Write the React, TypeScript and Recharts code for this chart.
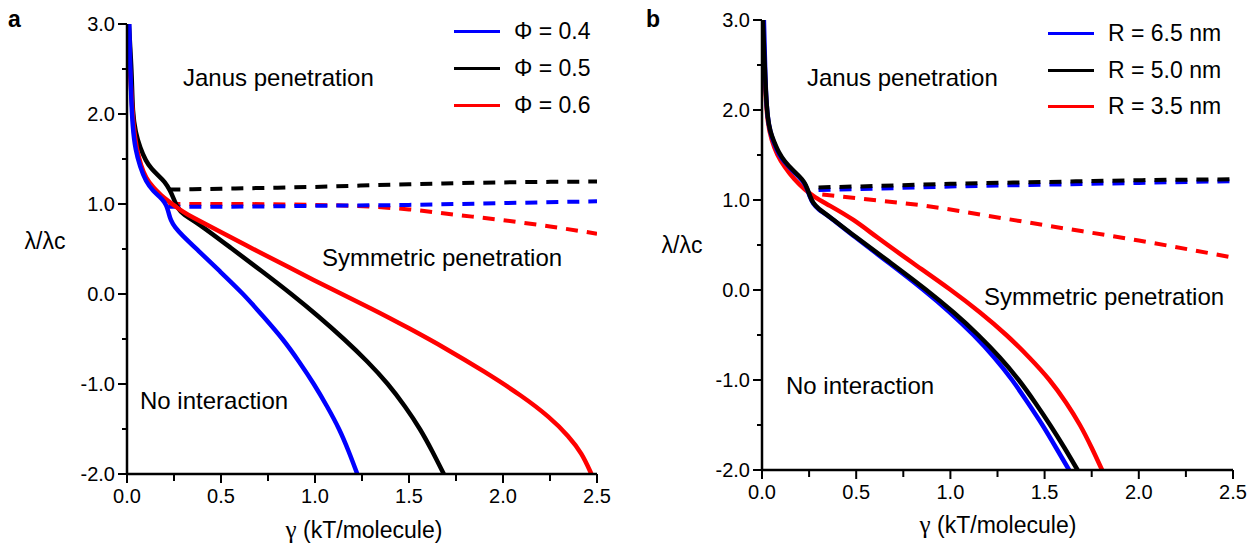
import React from 'react';
import { LineChart, Line, XAxis, YAxis } from 'recharts';

const FONT = '"Liberation Sans", Arial, Helvetica, sans-serif';
const SERIF = '"Liberation Serif", "Times New Roman", serif';

// ---------- Panel a data (gamma, lambda/lambda_c) ----------
const phi04Solid = [
  [0.012, 3.0], [0.016, 2.6], [0.022, 2.2], [0.03, 1.85], [0.045, 1.6], [0.07, 1.41], [0.1, 1.25],
  [0.14, 1.14], [0.18, 1.07], [0.2, 1.02], [0.212, 0.97], [0.222, 0.9], [0.232, 0.82], [0.255, 0.74],
  [0.29, 0.66], [0.37, 0.5], [0.495, 0.25], [0.62, 0.0], [0.725, -0.25], [0.83, -0.5], [0.915, -0.75],
  [0.995, -1.0], [1.065, -1.25], [1.13, -1.5], [1.18, -1.75], [1.225, -2.0],
];
const phi05Solid = [
  [0.01, 3.0], [0.018, 2.7], [0.025, 2.45], [0.03, 2.0], [0.045, 1.8], [0.07, 1.62], [0.1, 1.48],
  [0.13, 1.39], [0.17, 1.31], [0.2, 1.25], [0.23, 1.15], [0.25, 1.05], [0.27, 0.95], [0.3, 0.88],
  [0.37, 0.8], [0.56, 0.5], [0.72, 0.25], [0.875, 0.0], [1.02, -0.25], [1.155, -0.5], [1.28, -0.75],
  [1.39, -1.0], [1.48, -1.25], [1.56, -1.5], [1.625, -1.75], [1.685, -2.0],
];
const phi06Solid = [
  [0.005, 3.0], [0.012, 2.6], [0.025, 2.16], [0.035, 1.85], [0.05, 1.62], [0.075, 1.42], [0.1, 1.29],
  [0.14, 1.18], [0.18, 1.1], [0.22, 1.03], [0.26, 0.97], [0.3, 0.91], [0.34, 0.86], [0.48, 0.71],
  [0.67, 0.5], [0.85, 0.31], [1.1, 0.04], [1.3, -0.16], [1.5, -0.38], [1.7, -0.61], [1.9, -0.86],
  [2.1, -1.13], [2.25, -1.37], [2.35, -1.58], [2.42, -1.77], [2.47, -2.0],
];
const phi04Dashed = [[0.22, 0.97], [0.5, 0.97], [1.0, 0.98], [1.5, 0.99], [2.0, 1.01], [2.5, 1.03]];
const phi05Dashed = [[0.22, 1.16], [0.5, 1.17], [1.0, 1.19], [1.5, 1.22], [2.0, 1.24], [2.5, 1.25]];
const phi06Dashed = [
  [0.22, 1.0], [0.5, 1.0], [1.0, 0.99], [1.3, 0.97], [1.5, 0.94], [1.75, 0.88], [2.0, 0.82],
  [2.25, 0.75], [2.5, 0.67],
];

// ---------- Panel b data ----------
const r65Solid = [
  [0.01, 3.0], [0.015, 2.6], [0.02, 2.2], [0.03, 1.9], [0.045, 1.75], [0.06, 1.65], [0.09, 1.5],
  [0.12, 1.42], [0.16, 1.33], [0.2, 1.25], [0.225, 1.19], [0.24, 1.12], [0.255, 1.03], [0.27, 0.96],
  [0.3, 0.89], [0.35, 0.83], [0.485, 0.6], [0.675, 0.3], [0.86, 0.0], [1.0, -0.25], [1.125, -0.5],
  [1.235, -0.75], [1.33, -1.0], [1.41, -1.25], [1.49, -1.5], [1.56, -1.75], [1.63, -2.0],
];
const r50Solid = [
  [0.005, 3.0], [0.012, 2.6], [0.02, 2.2], [0.03, 1.9], [0.045, 1.75], [0.06, 1.67], [0.09, 1.52],
  [0.12, 1.43], [0.16, 1.34], [0.2, 1.26], [0.225, 1.2], [0.24, 1.13], [0.255, 1.04], [0.27, 0.97],
  [0.3, 0.9], [0.35, 0.83], [0.49, 0.6], [0.685, 0.3], [0.875, 0.0], [1.02, -0.25], [1.15, -0.5],
  [1.265, -0.75], [1.365, -1.0], [1.45, -1.25], [1.53, -1.5], [1.605, -1.75], [1.675, -2.0],
];
const r35Solid = [
  [0.005, 3.0], [0.01, 2.6], [0.018, 2.2], [0.03, 1.85], [0.05, 1.67], [0.08, 1.5], [0.12, 1.37],
  [0.17, 1.23], [0.23, 1.11], [0.28, 1.03], [0.35, 0.95], [0.49, 0.78], [0.6, 0.6], [0.8, 0.3],
  [1.005, 0.0], [1.16, -0.25], [1.3, -0.5], [1.42, -0.75], [1.53, -1.0], [1.615, -1.25],
  [1.69, -1.5], [1.75, -1.75], [1.805, -2.0],
];
const r65Dashed = [[0.3, 1.11], [0.5, 1.12], [1.0, 1.15], [1.5, 1.17], [2.0, 1.19], [2.5, 1.21]];
const r50Dashed = [[0.3, 1.14], [0.5, 1.15], [1.0, 1.18], [1.5, 1.2], [2.0, 1.22], [2.5, 1.23]];
const r35Dashed = [
  [0.32, 1.06], [0.5, 1.02], [0.85, 0.94], [1.27, 0.8], [1.5, 0.72], [2.0, 0.55], [2.5, 0.36],
];

// ---------- ticks & labels ----------
const xTicks = [0, 0.25, 0.5, 0.75, 1.0, 1.25, 1.5, 1.75, 2.0, 2.25, 2.5];
const yTicks = [-2, -1.5, -1, -0.5, 0, 0.5, 1, 1.5, 2, 2.5, 3];
const xTitleSymbol = 'γ';
const xTitleRest = ' (kT/molecule)';
const yTitle = 'λ/λc';

const BLUE = '#0000ff';
const BLACK = '#000000';
const RED = '#ff0000';

const toPts = (arr: number[][]) => arr.map(([x, y]) => ({ x, y }));

type Series = { name: string; color: string; solid: number[][]; dashed: number[][] };

const seriesA: Series[] = [
  { name: 'Φ = 0.4', color: BLUE, solid: phi04Solid, dashed: phi04Dashed },
  { name: 'Φ = 0.5', color: BLACK, solid: phi05Solid, dashed: phi05Dashed },
  { name: 'Φ = 0.6', color: RED, solid: phi06Solid, dashed: phi06Dashed },
];
const seriesB: Series[] = [
  { name: 'R = 6.5 nm', color: BLUE, solid: r65Solid, dashed: r65Dashed },
  { name: 'R = 5.0 nm', color: BLACK, solid: r50Solid, dashed: r50Dashed },
  { name: 'R = 3.5 nm', color: RED, solid: r35Solid, dashed: r35Dashed },
];

const isMajor = (v: number, step: number) => Math.abs(v / step - Math.round(v / step)) < 1e-6;

const XTick = (props: any) => {
  const { x, y, payload } = props;
  const v = payload.value as number;
  const major = isMajor(v, 0.5);
  return (
    <g>
      <line x1={x} x2={x} y1={y} y2={y + (major ? 9 : 7)} stroke="#000" strokeWidth={2} />
      {major && (
        <text x={x} y={y + 29} textAnchor="middle" fontSize={20} fontFamily={FONT} fill="#000">
          {v.toFixed(1)}
        </text>
      )}
    </g>
  );
};

const YTick = (props: any) => {
  const { x, y, payload } = props;
  const v = payload.value as number;
  const major = isMajor(v, 1);
  return (
    <g>
      <line x1={x - (major ? 9 : 5)} x2={x} y1={y} y2={y} stroke="#000" strokeWidth={2} />
      {major && (
        <text x={x - 12} y={y + 7} textAnchor="end" fontSize={20} fontFamily={FONT} fill="#000">
          {v.toFixed(1)}
        </text>
      )}
    </g>
  );
};

type PanelProps = {
  series: Series[];
  order: number[];
  left: number;
  width: number;
  yAxisWidth: number;
  top: number;
  xAxisHeight: number;
  right: number;
};

const Panel = ({ series, order, left, width, yAxisWidth, top, xAxisHeight, right }: PanelProps) => {
  const ordered = order.map((i) => series[i]);
  return (
    <div style={{ position: 'absolute', left, top: 0 }}>
      <LineChart width={width} height={548} margin={{ top, right, left: 0, bottom: 0 }}>
        <XAxis
          type="number"
          dataKey="x"
          domain={[0, 2.5]}
          ticks={xTicks}
          interval={0}
          tickSize={0}
          tickMargin={0}
          tickLine={false}
          tick={<XTick />}
          height={xAxisHeight}
          axisLine={{ stroke: '#000', strokeWidth: 2.5 }}
          allowDataOverflow
        />
        <YAxis
          type="number"
          dataKey="y"
          domain={[-2, 3]}
          ticks={yTicks}
          interval={0}
          tickSize={0}
          tickMargin={0}
          tickLine={false}
          tick={<YTick />}
          width={yAxisWidth}
          axisLine={{ stroke: '#000', strokeWidth: 2.5 }}
          allowDataOverflow
        />
        {ordered.map((s) => (
          <Line
            key={s.name + '-d'}
            data={toPts(s.dashed)}
            dataKey="y"
            type="monotone"
            stroke={s.color}
            strokeWidth={4}
            strokeDasharray="12 9"
            dot={false}
            activeDot={false}
            isAnimationActive={false}
          />
        ))}
        {ordered.map((s) => (
          <Line
            key={s.name + '-s'}
            data={toPts(s.solid)}
            dataKey="y"
            type="basis"
            stroke={s.color}
            strokeWidth={4.5}
            strokeLinejoin="round"
            dot={false}
            activeDot={false}
            isAnimationActive={false}
          />
        ))}
      </LineChart>
    </div>
  );
};

const Txt = ({ x, y, size, children, bold, anchor }: any) => (
  <div
    style={{
      position: 'absolute',
      left: x,
      top: y,
      transform: anchor === 'middle' ? 'translate(-50%, -50%)' : 'translateY(-50%)',
      fontFamily: FONT,
      fontSize: size,
      fontWeight: bold ? 'bold' : 'normal',
      lineHeight: 1,
      whiteSpace: 'nowrap',
      color: '#000',
    }}
  >
    {children}
  </div>
);

const Legend = ({ series, lineX, lineW, textX, ys }: any) => (
  <>
    {series.map((s: Series, i: number) => (
      <React.Fragment key={s.name}>
        <div
          style={{
            position: 'absolute',
            left: lineX,
            top: ys[i] - 1.5,
            width: lineW,
            height: 3.5,
            background: s.color,
          }}
        />
        <Txt x={textX} y={ys[i]} size={23}>
          {s.name}
        </Txt>
      </React.Fragment>
    ))}
  </>
);

const XTitle = ({ x, y }: { x: number; y: number }) => (
  <Txt x={x} y={y} size={23} anchor="middle">
    <span style={{ fontFamily: SERIF, fontSize: 25 }}>{xTitleSymbol}</span>
    {xTitleRest}
  </Txt>
);

export default function App() {
  return (
    <div
      style={{
        position: 'absolute',
        left: 0,
        top: 0,
        width: 1256,
        height: 548,
        background: '#fff',
        overflow: 'hidden',
      }}
    >
      <Panel
        series={seriesA}
        order={[1, 2, 0]}
        left={0}
        width={620}
        yAxisWidth={127}
        top={24}
        xAxisHeight={74}
        right={23}
      />
      <Panel
        series={seriesB}
        order={[2, 0, 1]}
        left={640}
        width={616}
        yAxisWidth={122}
        top={20}
        xAxisHeight={78}
        right={23}
      />

      {/* panel letters */}
      <Txt x={8} y={19} size={23} bold>a</Txt>
      <Txt x={646} y={19} size={23} bold>b</Txt>

      {/* axis titles */}
      <Txt x={45} y={241} size={23} anchor="middle">{yTitle}</Txt>
      <XTitle x={364} y={529} />
      <Txt x={682} y={245} size={23} anchor="middle">{yTitle}</Txt>
      <XTitle x={998} y={524} />

      {/* region annotations */}
      <Txt x={183} y={78} size={24}>Janus penetration</Txt>
      <Txt x={322} y={258} size={24}>Symmetric penetration</Txt>
      <Txt x={140} y={401} size={24}>No interaction</Txt>
      <Txt x={807} y={78} size={24}>Janus penetration</Txt>
      <Txt x={984} y={297} size={24}>Symmetric penetration</Txt>
      <Txt x={786} y={386} size={24}>No interaction</Txt>

      <Legend series={seriesA} lineX={454} lineW={46} textX={514} ys={[31, 68, 105]} />
      <Legend series={seriesB} lineX={1048} lineW={46} textX={1108} ys={[33, 70, 106]} />
    </div>
  );
}
